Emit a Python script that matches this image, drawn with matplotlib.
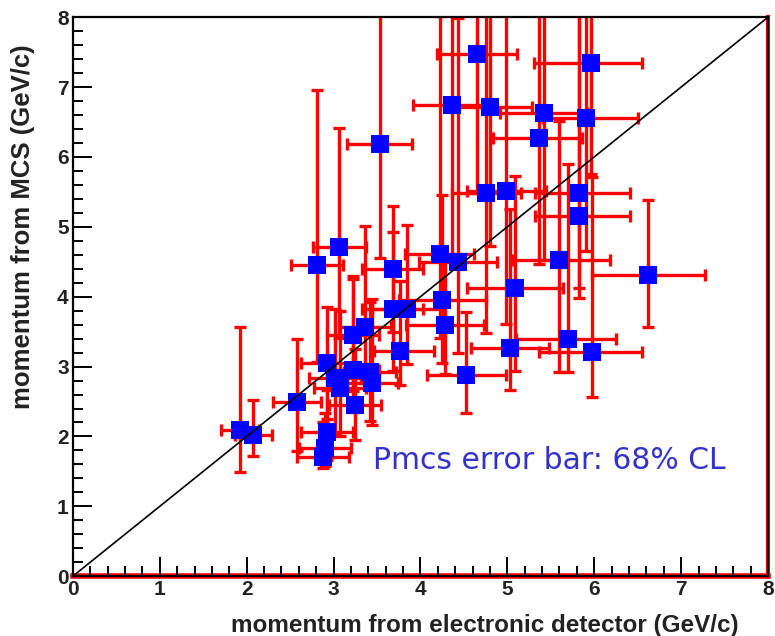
import numpy as np
import matplotlib.pyplot as plt
from matplotlib.ticker import MultipleLocator

# momentum from electronic detector (x) and from MCS (y), GeV/c
p_det = [4.65, 5.96, 4.36, 4.80, 5.42, 5.91, 5.36, 3.53, 4.76, 4.99,
         5.82, 5.82, 6.62, 5.60, 5.09, 4.22, 4.43, 4.25, 3.68, 2.81,
         3.06, 3.68, 3.84, 3.22, 3.36, 3.76, 4.28, 5.03, 5.70, 5.97,
         4.53, 1.92, 2.07, 2.58, 2.92, 3.02, 3.07, 3.22, 3.42, 3.44,
         3.25, 2.92, 2.90, 2.88]
p_mcs = [7.48, 7.35, 6.74, 6.72, 6.63, 6.55, 6.27, 6.19, 5.48, 5.51,
         5.48, 5.16, 4.31, 4.52, 4.13, 4.61, 4.49, 3.95, 4.40, 4.46,
         4.71, 3.83, 3.83, 3.45, 3.56, 3.23, 3.59, 3.26, 3.40, 3.21,
         2.88, 2.09, 2.02, 2.49, 3.05, 2.83, 2.70, 2.95, 2.92, 2.76,
         2.45, 2.06, 1.83, 1.70]
det_err_lo = [0.46, 0.65, 0.45, 0.45, 0.50, 0.50, 0.53, 0.37, 0.40, 0.45,
              0.50, 0.50, 0.65, 0.55, 0.55, 0.40, 0.45, 0.50, 0.35, 0.30,
              0.30, 0.35, 0.40, 0.30, 0.30, 0.30, 0.45, 0.45, 0.60, 0.60,
              0.45, 0.22, 0.20, 0.28, 0.30, 0.30, 0.30, 0.30, 0.30, 0.30,
              0.30, 0.30, 0.30, 0.30]
det_err_hi = [0.46, 0.59, 0.45, 0.48, 0.50, 0.59, 0.50, 0.37, 0.40, 0.45,
              0.59, 0.59, 0.65, 0.58, 0.55, 0.40, 0.45, 0.50, 0.35, 0.30,
              0.31, 0.35, 0.40, 0.30, 0.30, 0.40, 0.45, 0.45, 0.55, 0.58,
              0.45, 0.22, 0.22, 0.28, 0.30, 0.30, 0.30, 0.30, 0.30, 0.30,
              0.30, 0.30, 0.30, 0.30]
mcs_err_lo = [2.0, 1.6, 2.2, 2.0, 2.1, 1.9, 1.8, 1.64, 2.0, 1.9,
              1.5, 1.03, 0.75, 1.6, 1.2, 1.2, 1.3, 0.9, 0.9, 1.4,
              1.3, 0.9, 0.8, 0.8, 0.8, 0.5, 0.7, 0.6, 0.48, 0.65,
              0.55, 0.6, 0.3, 0.7, 0.8, 0.8, 0.7, 0.6, 0.7, 0.6,
              0.5, 0.4, 0.25, 0.15]
mcs_err_hi = [1.0, 1.0, 1.5, 1.5, 1.5, 1.5, 1.8, 1.9, 2.6, 2.6,
              2.6, 2.9, 1.07, 2.0, 1.6, 3.4, 3.5, 1.5, 0.9, 2.5,
              1.7, 1.1, 1.2, 0.85, 1.45, 1.0, 1.0, 2.0, 2.5, 2.5,
              0.9, 1.47, 0.5, 0.9, 0.8, 1.0, 1.1, 1.3, 1.0, 1.2,
              0.8, 0.6, 0.5, 0.5]

fig = plt.figure(figsize=(7.75, 6.36), dpi=100)
ax = fig.add_axes([0.094, 0.094, 0.897, 0.879])

ax.errorbar(p_det, p_mcs,
            xerr=[det_err_lo, det_err_hi], yerr=[mcs_err_lo, mcs_err_hi],
            fmt='none', ecolor='#ff0000', elinewidth=2.4,
            capsize=4, capthick=2.4, zorder=2)
ax.plot(p_det, p_mcs, 's', color='#0000ff', markersize=13,
        markeredgewidth=0, zorder=3)

ax.plot([0, 8], [0, 8], color='black', lw=1.2, zorder=4)

ax.set_xlim(0, 8)
ax.set_ylim(0, 8)

# ROOT-like frame
ax.axhline(0, color='#ff0000', lw=4, zorder=1, clip_on=False)
ax.axvline(8, color='#ff0000', lw=3, zorder=1, clip_on=False)
for s in ax.spines.values():
    s.set_linewidth(1.6)
    s.set_color('black')

ax.xaxis.set_major_locator(MultipleLocator(1))
ax.yaxis.set_major_locator(MultipleLocator(1))
ax.xaxis.set_minor_locator(MultipleLocator(0.2))
ax.yaxis.set_minor_locator(MultipleLocator(0.2))
ax.tick_params(which='both', direction='in', top=False, right=False,
               width=1.4, color='black')
ax.tick_params(which='major', length=14, pad=3)
ax.tick_params(which='minor', length=7)
for lab in ax.get_xticklabels() + ax.get_yticklabels():
    lab.set_fontfamily('Liberation Sans')
    lab.set_fontweight('bold')
    lab.set_fontsize(15)
    lab.set_color('#222222')

fig.text(0.626, 0.016, 'momentum from electronic detector (GeV/c)',
         ha='center', va='center', fontsize=17.5, fontweight='bold',
         family='Liberation Sans', color='#222222')
fig.text(0.03, 0.643, 'momentum from MCS (GeV/c)', rotation=90,
         ha='center', va='center', fontsize=18.5, fontweight='bold',
         family='Liberation Sans', color='#222222')

ax.text(3.45, 1.66, 'Pmcs error bar: 68% CL', color='#3333cc',
        fontsize=21.5, ha='left', va='center', family='DejaVu Sans')

fig.savefig('out.png', dpi=100)
